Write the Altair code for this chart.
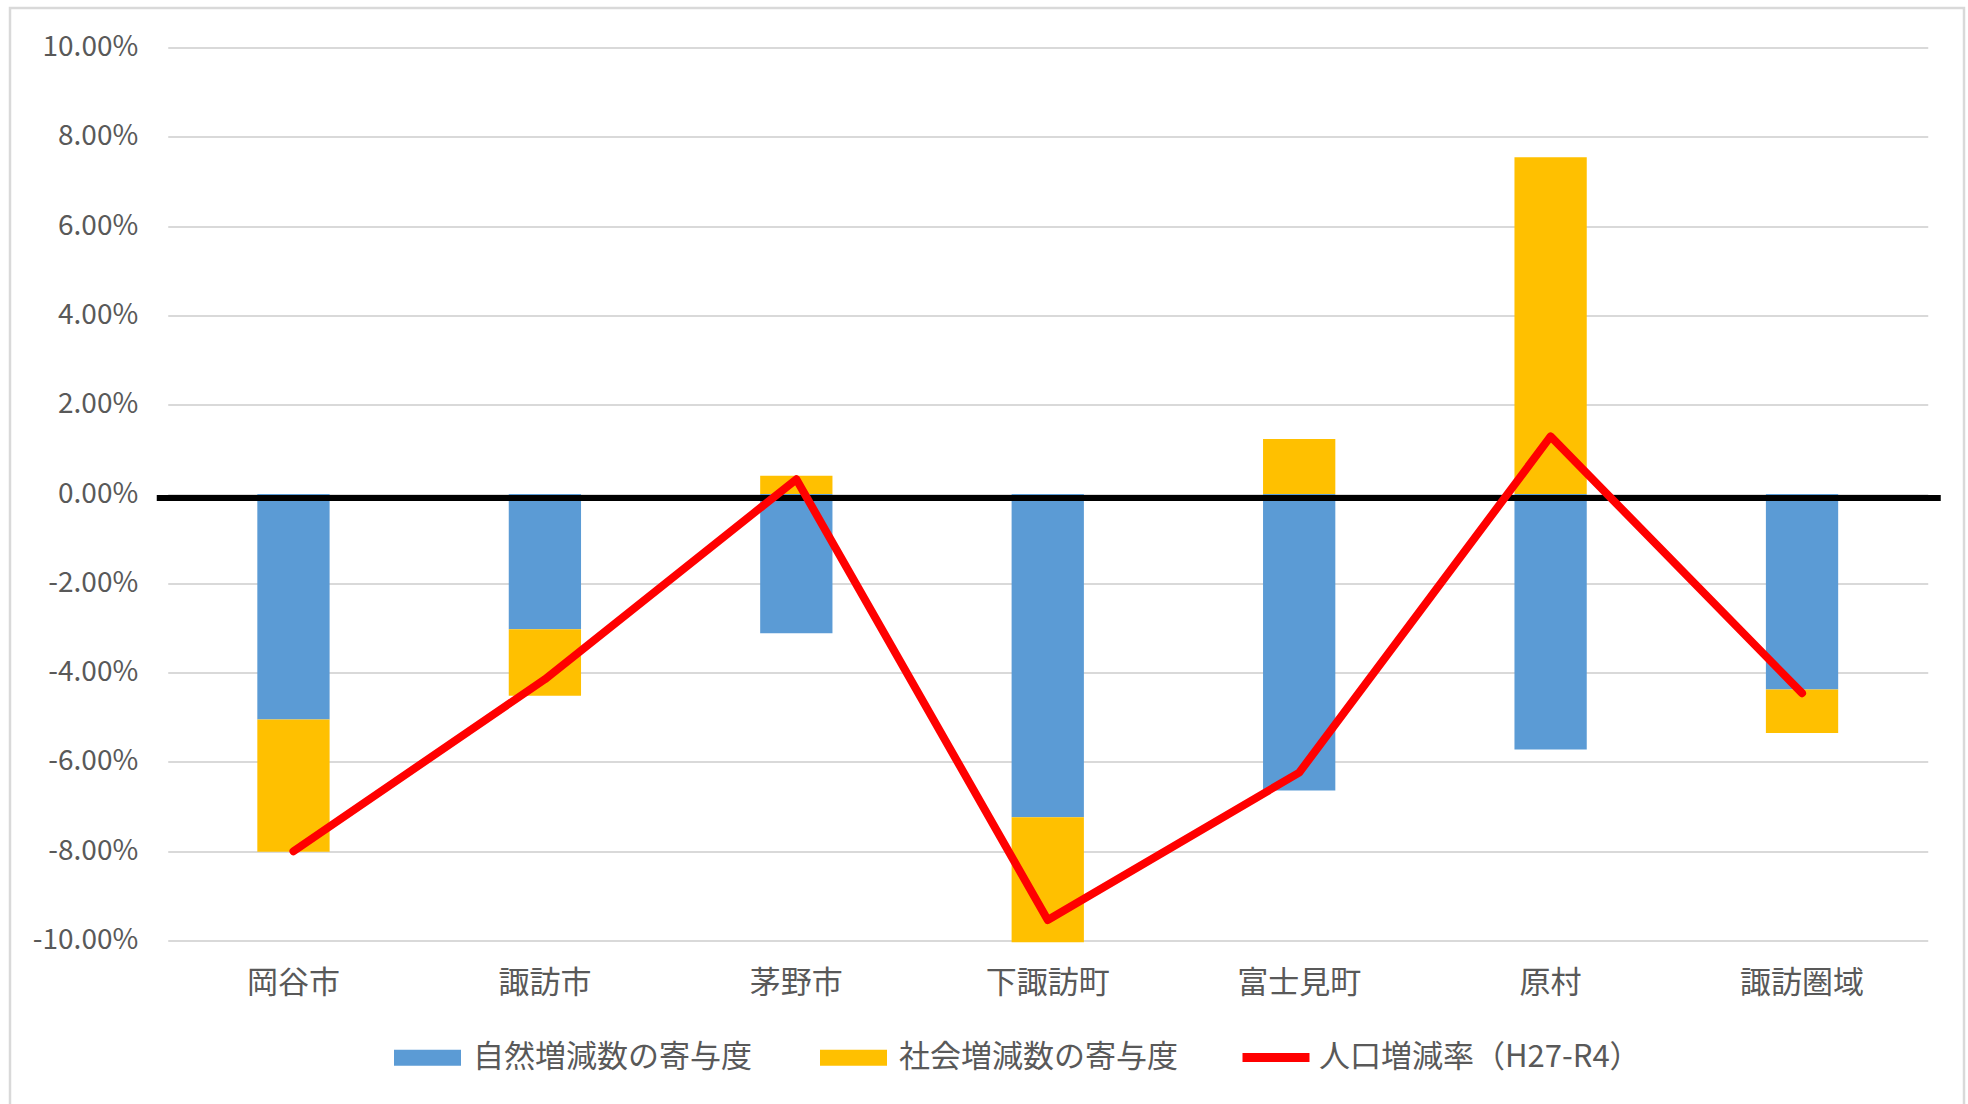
import altair as alt
import pandas as pd

# ---- data ----
cities = ["岡谷市", "諏訪市", "茅野市", "下諏訪町", "富士見町", "原村", "諏訪圏域"]
natural = [-5.05, -3.03, -3.12, -7.24, -6.64, -5.72, -4.38]   # 自然増減数の寄与度 (%)
social = [-2.96, -1.49, 0.41, -2.80, 1.23, 7.54, -0.97]       # 社会増減数の寄与度 (%)
rate = [-8.00, -4.15, 0.33, -9.54, -6.24, 1.29, -4.46]        # 人口増減率 (%)
series_names = ["自然増減数の寄与度", "社会増減数の寄与度"]
line_name = "人口増減率（H27-R4）"
y_ticks = [-10, -8, -6, -4, -2, 0, 2, 4, 6, 8, 10]

BLUE, YELLOW, RED = "#5B9BD5", "#FFC000", "#FF0000"
FONT = "Noto Sans CJK JP"
TXT = "#595959"
W, H = 1760, 893

bars_df = pd.DataFrame({
    "city": cities * 2,
    "series": [series_names[0]] * len(cities) + [series_names[1]] * len(cities),
    "ord": [0] * len(cities) + [1] * len(cities),
    "value": natural + social,
})
line_df = pd.DataFrame({"city": cities, "series": [line_name] * len(cities), "value": rate})
one = pd.DataFrame({"v": [0]})

x_axis = alt.Axis(title=None, labelAngle=0, domain=False, ticks=False, grid=False,
                  labelPadding=28, labelFontSize=31, labelColor=TXT, labelFont=FONT)
x_scale = alt.Scale(paddingInner=0.7125, paddingOuter=0.35625)
y_axis = alt.Axis(title=None, values=y_ticks, domain=False, ticks=False, grid=True,
                  gridColor="#D9D9D9", gridWidth=2, labelPadding=30, labelFontSize=28,
                  labelColor=TXT, labelFont=FONT,
                  labelExpr="(datum.value < 0 ? '-' : '') + format(abs(datum.value), '.2f') + '%'")
y_scale = alt.Scale(domain=[-10, 10], nice=False, zero=False)

X = alt.X("city:N", sort=cities, scale=x_scale, axis=x_axis)

border = alt.Chart(one).mark_rect(fill="transparent", stroke="#D9D9D9", strokeWidth=2.5).encode(
    x=alt.value(-157.75), x2=alt.value(1796.25), y=alt.value(-39.5), y2=alt.value(1062)
)

bars = alt.Chart(bars_df).mark_bar().encode(
    x=X,
    y=alt.Y("value:Q", stack="zero", scale=y_scale, axis=y_axis),
    color=alt.Color(
        "series:N",
        scale=alt.Scale(domain=series_names, range=[BLUE, YELLOW]),
        legend=alt.Legend(
            title=None, orient="none", legendX=226.25, legendY=976.5, direction="horizontal",
            symbolType="M-1,-0.24L1,-0.24L1,0.24L-1,0.24Z", symbolSize=4489,
            symbolStrokeWidth=0, labelFontSize=31, labelColor=TXT, labelFont=FONT,
            labelOffset=12, columnPadding=68, padding=0, labelLimit=0,
        ),
    ),
    order=alt.Order("ord:Q"),
)

zero = alt.Chart(one).mark_rule(color="black", strokeWidth=6, yOffset=4).encode(
    y=alt.Y("v:Q", scale=y_scale, axis=y_axis),
    x=alt.value(-11), x2=alt.value(1773),
)

line = alt.Chart(line_df).mark_line(strokeWidth=8, strokeCap="round", strokeJoin="round").encode(
    x=X,
    y=alt.Y("value:Q", scale=y_scale, axis=y_axis),
    stroke=alt.Stroke(
        "series:N",
        scale=alt.Scale(domain=[line_name], range=[RED]),
        legend=alt.Legend(
            title=None, orient="none", legendX=1070.25, legendY=972, direction="horizontal",
            symbolType="stroke", symbolSize=4489, symbolStrokeWidth=9,
            labelFontSize=31, labelColor=TXT, labelFont=FONT, labelOffset=5,
            padding=0, labelLimit=0,
        ),
    ),
)

chart = alt.layer(border, bars, zero, line).properties(
    width=W, height=H,
    padding={"left": 167.75, "top": 47.5, "right": 40.25, "bottom": 163.5},
    autosize=alt.AutoSizeParams(type="none"),
    background="white",
).configure_view(stroke=None)

chart.save("out.html", embed_options={"renderer": "svg", "actions": False})
